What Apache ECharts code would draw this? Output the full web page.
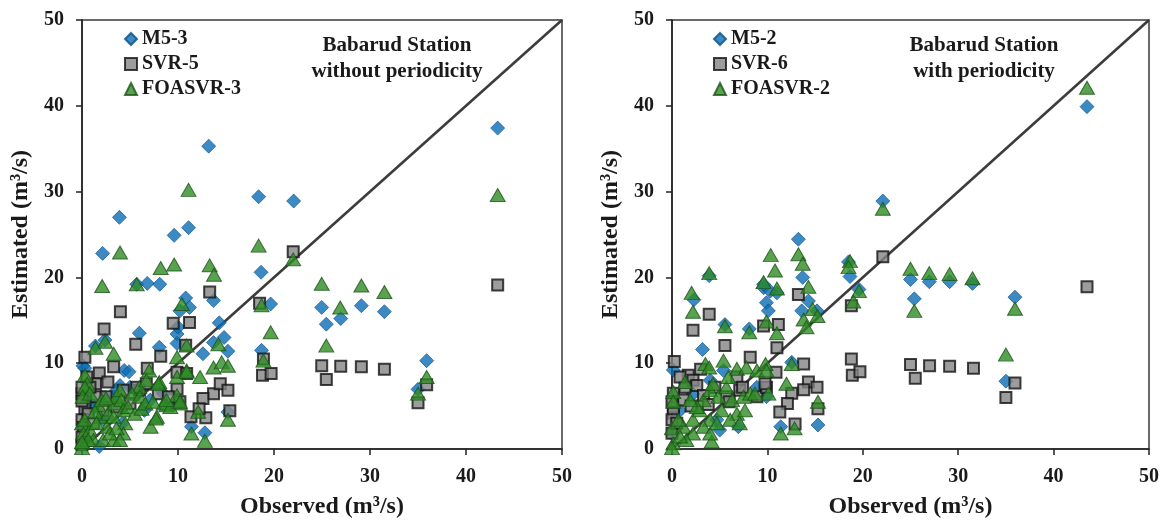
<!DOCTYPE html>
<html>
<head>
<meta charset="utf-8">
<script src="https://cdn.jsdelivr.net/npm/echarts@6/dist/echarts.min.js"></script>
<style>
  html, body { margin: 0; padding: 0; background: #fff; }
  #chart { width: 1169px; height: 524px; }
</style>
</head>
<body>
<div id="chart"></div>
<script>
// Observed vs. estimated discharge (m³/s), Babarud station.
// Each point is [observed, estimated].

// Panel 1: without periodicity
const m53 = [
  [43.3,37.4],[13.2,35.3],[3.9,27.0],[9.6,24.9],[11.1,25.8],[18.4,29.4],[22.05,28.9],[2.15,22.8],
  [18.65,20.6],[5.7,19.2],[6.8,19.3],[8.1,19.2],[10.8,17.6],[11.2,16.5],[13.7,17.3],[14.3,14.7],
  [14.8,13.0],[15.2,11.4],[13.7,12.4],[12.6,11.1],[9.9,13.4],[9.9,12.3],[10.2,16.1],[19.65,16.9],
  [5.97,13.5],[8.05,11.85],[18.7,11.5],[4.4,9.15],[4.9,9.0],[0.1,9.7],[0.3,9.4],[1.4,12.0],
  [2.4,12.7],[11.4,2.6],[12.8,1.9],[1.8,0.3],[15.2,4.3],[24.97,16.5],[25.45,14.55],[26.95,15.2],
  [29.1,16.7],[31.5,16.0],[35.9,10.3],[35.0,6.95],[3.96,7.4],[2.4,6.0],[0.14,6.1],[0.83,5.5],
  [3.3,6.1],[7.1,5.7],[7.95,7.2],[8.5,6.45],[5.7,6.85],[5.0,7.2],[3.6,6.85],[10.0,14.2],
  [1.2,4.8],[2.2,3.5],[0.3,1.2],[0.1,2.5],[4.2,3.0],[6.5,4.5],[9.5,5.2]
];
const svr5 = [
  [43.3,19.1],[22.0,23.0],[13.3,18.3],[18.5,17.0],[4.0,16.0],[9.5,14.65],[11.2,14.75],[2.3,14.0],
  [5.6,12.2],[10.8,12.1],[0.3,10.7],[8.2,10.8],[3.3,9.6],[6.8,9.4],[1.8,8.85],[2.7,7.8],
  [1.4,7.6],[18.9,10.5],[18.8,8.6],[19.7,8.8],[9.9,8.95],[9.9,7.0],[10.9,8.8],[7.95,6.45],
  [13.7,6.45],[14.4,7.6],[15.2,6.85],[15.4,4.45],[12.6,5.9],[11.35,3.75],[12.9,3.65],[12.2,4.7],
  [0.3,4.7],[0,6.45],[0,3.4],[6.0,6.85],[9.0,6.1],[24.97,9.7],[25.45,8.1],[26.95,9.65],
  [29.1,9.6],[31.5,9.3],[35.9,7.5],[35.0,5.4],[0,5.6],[0.14,2.5],[0,1.4],[0,0.5],
  [1.5,6.1],[2.5,6.1],[4.3,6.85],[5.7,7.2],[6.7,7.6],[10.2,5.5],[0.65,4.1],[1.2,3.0],
  [2.2,4.5],[3.6,4.9],[5.0,5.3],[0.83,7.2],[0.5,8.4],[0,7.2]
];
const foasvr3 = [
  [43.3,29.6],[11.1,30.2],[3.96,22.9],[18.4,23.7],[22.0,22.1],[2.1,19.0],[5.7,19.2],[8.2,21.1],
  [9.6,21.5],[13.3,21.4],[13.75,20.3],[10.4,16.9],[18.7,16.75],[19.65,13.6],[2.4,12.5],[1.4,11.8],
  [3.3,11.1],[10.9,12.05],[14.2,12.2],[9.9,10.7],[10.9,9.15],[12.3,8.4],[13.7,9.5],[14.55,10.1],
  [15.2,9.7],[18.9,10.3],[0.3,8.6],[0.55,7.6],[7.0,9.15],[8.05,7.8],[5.97,7.2],[9.9,6.25],
  [10.2,5.3],[12.1,4.35],[15.2,3.4],[11.4,1.8],[12.8,0.95],[7.15,2.6],[7.8,3.75],[8.8,5.1],
  [24.97,19.25],[29.1,19.05],[31.5,18.3],[26.9,16.5],[25.45,12.05],[35.9,8.4],[35.0,6.45],
  [0.3,7.2],[0.07,6.1],[0,3.0],[0.14,1.8],[0.07,0.7],[0,0.1],[0.83,2.2],[1.2,1.05],
  [1.9,3.75],[1.7,5.1],[2.2,1.05],[2.6,2.6],[2.7,4.1],[3.3,3.75],[3.4,5.3],[3.6,6.1],
  [3.96,6.85],[4.1,5.7],[4.3,4.5],[4.5,3.0],[4.3,1.8],[3.3,1.05],[4.8,4.9],[5.2,6.45],
  [6.0,6.1],[6.7,8.0],[7.7,3.55],[7.95,7.6],[8.5,5.3],[9.2,4.9],[9.9,8.4],[10.2,5.5],
  [10.9,9.0],[5.5,4.1],[6.2,4.7],[6.6,5.3],[7.4,5.5],[8.8,5.7],[0.83,6.45],[1.35,4.35],
  [2.05,5.7],[2.5,5.9],[0.3,3.4],[0.65,1.05],[1.5,3.0],[2.9,1.8],[3.6,2.4],[3.96,1.05],[0,0.8]
];

// Panel 2: with periodicity
const m52 = [
  [43.5,39.9],[22.1,28.9],[13.25,24.45],[13.7,20.0],[3.9,20.2],[18.5,21.8],[18.66,20.1],[25.0,19.75],
  [26.97,19.5],[29.1,19.5],[31.5,19.3],[25.4,17.5],[35.95,17.7],[35.0,7.9],[2.3,17.4],[5.55,14.5],
  [3.2,11.6],[0.14,9.2],[8.1,14.0],[9.6,18.8],[9.9,17.05],[10.1,16.1],[11.0,18.2],[14.3,17.25],
  [13.6,16.1],[15.2,16.1],[15.3,2.8],[11.4,2.6],[19.6,18.6],[12.55,10.1],[8.9,7.2],[9.9,6.1],
  [5.4,9.15],[4.0,8.0],[2.2,6.4],[0.84,4.5],[4.7,3.4],[0,1.8],[6.95,2.6],[5.0,2.2],
  [9.6,19.2],[10.3,18.4]
];
const svr6 = [
  [43.5,18.9],[22.1,22.4],[13.25,18.0],[25.0,9.85],[25.5,8.25],[27.0,9.7],[29.1,9.65],[31.6,9.4],
  [35.95,7.7],[35.0,6.0],[3.9,15.7],[2.2,13.85],[5.55,12.05],[0.24,10.2],[3.0,9.3],[8.2,10.7],
  [10.9,8.95],[9.6,14.35],[11.15,14.5],[11.0,11.8],[13.8,9.9],[14.3,7.8],[13.8,6.9],[15.2,7.2],
  [12.55,6.5],[12.1,5.3],[11.3,4.3],[15.3,4.7],[12.9,2.9],[18.8,16.7],[18.8,10.5],[18.9,8.6],
  [19.7,9.0],[1.7,8.6],[2.2,8.0],[2.6,7.4],[1.36,7.2],[0.14,6.5],[0.14,4.9],[0.14,4.2],
  [0,3.4],[0,1.85],[3.3,6.25],[4.5,7.2],[6.8,8.4],[8.9,6.1],[9.9,7.2],[9.75,7.6],
  [7.1,6.85],[5.7,6.1],[1.2,5.7],[0.84,8.4],[7.4,7.2],[0,5.5],[0.5,3.0],[2.0,5.0],
  [3.8,5.2],[6.0,5.5]
];
const foasvr2 = [
  [43.5,42.1],[22.1,28.0],[25.0,21.0],[26.97,20.5],[29.1,20.4],[31.5,19.9],[25.4,16.1],[35.95,16.35],
  [35.0,11.0],[13.25,22.7],[13.7,21.6],[14.3,18.9],[10.35,22.6],[10.8,20.8],[9.6,19.45],[11.0,18.7],
  [3.9,20.5],[2.06,18.2],[18.66,21.9],[18.5,21.2],[19.6,18.4],[2.2,16.0],[5.55,14.3],[3.5,9.9],
  [3.9,9.5],[5.4,10.3],[6.8,9.35],[7.8,9.5],[8.1,13.6],[8.9,9.15],[9.8,9.9],[9.9,9.15],
  [9.9,14.85],[11.0,13.5],[13.8,15.1],[14.1,14.2],[14.75,16.3],[15.25,15.5],[12.55,9.9],[12.0,7.6],
  [15.3,5.5],[11.4,1.8],[12.85,2.4],[19.0,17.2],[4.16,0.87],[10.1,6.45],[1.36,7.8],[0.14,6.65],
  [0.14,5.5],[0,2.4],[0.14,0.67],[0,0.1],[1.2,2.6],[2.2,3.4],[2.9,4.5],[3.3,5.7],
  [4.0,6.85],[4.3,7.6],[4.85,6.1],[5.7,7.2],[5.9,8.4],[6.3,5.7],[6.8,4.1],[7.5,6.1],
  [7.65,4.5],[8.2,6.45],[8.7,6.45],[5.2,4.5],[4.0,3.4],[3.3,2.6],[2.2,1.8],[1.5,1.05],
  [0.84,1.45],[0.66,3.4],[2.6,4.9],[1.9,5.7],[4.0,1.8],[4.7,3.0],[6.1,3.4],[7.1,3.0]
];

const AXIS_MIN = 0, AXIS_MAX = 50, AXIS_STEP = 10;
const oneToOne = [[AXIS_MIN, AXIS_MIN], [AXIS_MAX, AXIS_MAX]];

const FONT = '"Liberation Serif", "Times New Roman", serif';
const INK = '#1a1a1a';

const styles = {
  m5:  { symbol: 'diamond', symbolSize: [14, 14], itemStyle: { color: '#0B6DB5', borderColor: '#0A4F86', borderWidth: 0.8 } },
  svr: { symbol: 'rect', symbolSize: 11, itemStyle: { color: '#858585', borderColor: '#111', borderWidth: 2 } },
  foa: { symbol: 'triangle', symbolSize: [15, 13], itemStyle: { color: '#2E8B24', borderColor: '#1B5418', borderWidth: 1 } }
};

function axisX(gridIndex) {
  return {
    type: 'value', gridIndex, min: AXIS_MIN, max: AXIS_MAX, interval: AXIS_STEP,
    name: 'Observed (m³/s)', nameLocation: 'middle', nameGap: 46,
    nameTextStyle: { fontFamily: FONT, fontWeight: 'bold', fontSize: 24, color: INK },
    axisLine: { onZero: false, lineStyle: { color: '#222', width: 1.5 } },
    axisTick: { show: true, inside: false, length: 6, lineStyle: { color: '#222', width: 1.5 } },
    axisLabel: { fontFamily: FONT, fontWeight: 'bold', fontSize: 20, color: INK, margin: 18 },
    splitLine: { show: false }
  };
}
function axisY(gridIndex) {
  return {
    type: 'value', gridIndex, min: AXIS_MIN, max: AXIS_MAX, interval: AXIS_STEP,
    name: 'Estimated (m³/s)', nameLocation: 'middle', nameGap: 49,
    nameTextStyle: { fontFamily: FONT, fontWeight: 'bold', fontSize: 24, color: INK },
    axisLine: { onZero: false, lineStyle: { color: '#222', width: 1.5 } },
    axisTick: { show: true, inside: false, length: 6, lineStyle: { color: '#222', width: 1.5 } },
    axisLabel: { fontFamily: FONT, fontWeight: 'bold', fontSize: 20, color: INK, margin: 18 },
    splitLine: { show: false }
  };
}

function scatter(name, data, style, idx) {
  return Object.assign({
    type: 'scatter', name, data, xAxisIndex: idx, yAxisIndex: idx, z: 3
  }, style);
}
function diagonal(idx) {
  return {
    type: 'line', data: oneToOne, xAxisIndex: idx, yAxisIndex: idx, symbol: 'none',
    lineStyle: { color: '#3c3c3c', width: 2.6 }, z: 2, silent: true
  };
}
function legend(names, left) {
  return {
    orient: 'vertical', left, top: 24, itemWidth: 12, itemHeight: 12, itemGap: 5,
    data: names, selectedMode: false,
    textStyle: { fontFamily: FONT, fontWeight: 'bold', fontSize: 20, color: INK }
  };
}
function stationLabel(cx, text) {
  return {
    type: 'text', x: cx, y: 33,
    style: { text, textAlign: 'center', font: 'bold 21px ' + FONT, fill: INK, lineHeight: 26 }
  };
}

const chart = echarts.init(document.getElementById('chart'), null, { renderer: 'canvas' });
chart.setOption({
  animation: false,
  backgroundColor: '#fff',
  grid: [
    { left: 82, top: 20, width: 480, height: 432, show: true, borderColor: '#3a3a3a', borderWidth: 1.5, backgroundColor: 'transparent' },
    { left: 672, top: 20, width: 477, height: 432, show: true, borderColor: '#3a3a3a', borderWidth: 1.5, backgroundColor: 'transparent' }
  ],
  xAxis: [axisX(0), axisX(1)],
  yAxis: [axisY(0), axisY(1)],
  legend: [
    legend(['M5-3', 'SVR-5', 'FOASVR-3'], 119),
    legend(['M5-2', 'SVR-6', 'FOASVR-2'], 708)
  ],
  graphic: [
    stationLabel(397, 'Babarud Station\nwithout periodicity'),
    stationLabel(984, 'Babarud Station\nwith periodicity')
  ],
  series: [
    diagonal(0),
    scatter('M5-3', m53, styles.m5, 0),
    scatter('SVR-5', svr5, styles.svr, 0),
    scatter('FOASVR-3', foasvr3, styles.foa, 0),
    diagonal(1),
    scatter('M5-2', m52, styles.m5, 1),
    scatter('SVR-6', svr6, styles.svr, 1),
    scatter('FOASVR-2', foasvr2, styles.foa, 1)
  ]
});
</script>
</body>
</html>
